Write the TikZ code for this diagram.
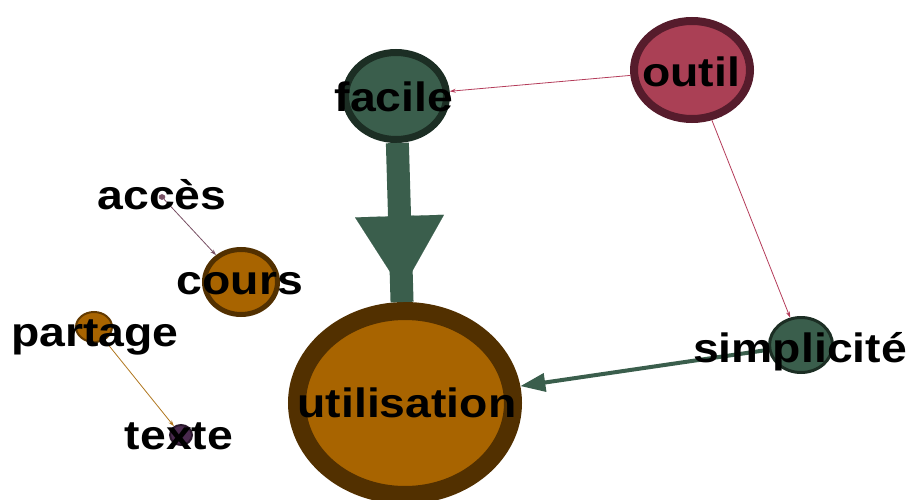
\documentclass[tikz,border=0pt]{standalone}
\usepackage{fontspec}
\newfontfamily\lblfont{Liberation Sans}
\usetikzlibrary{shapes.geometric,arrows.meta}
\definecolor{orfill}{RGB}{168,100,0}
\definecolor{orline}{RGB}{82,48,0}
\definecolor{grfill}{RGB}{58,94,76}
\definecolor{grline}{RGB}{28,46,36}
\definecolor{rdfill}{RGB}{170,64,85}
\definecolor{rdline}{RGB}{86,28,44}
\definecolor{pufill}{RGB}{74,42,78}
\definecolor{puline}{RGB}{42,24,44}
\definecolor{rdedge}{RGB}{180,60,90}
\definecolor{puedge}{RGB}{120,80,100}
\definecolor{oredge}{RGB}{176,118,30}
\tikzset{
  ell/.style={ellipse, draw, inner sep=0pt},
  lab/.style={font=\lblfont\bfseries\fontsize{41}{41}\selectfont, text=black,
    inner sep=0pt, text height=29pt, text depth=0pt, anchor=center},
  thinedge/.style={line width=0.8pt, -{Stealth[length=6pt,width=4pt]}},
}
\newcommand\wide[1]{\scalebox{1.13}[1]{#1}}
\begin{document}
\begin{tikzpicture}[x=1pt,y=-1pt]
\useasboundingbox (0,0) rectangle (910,500);
% nodes
\node[ell, fill=orfill, draw=orline, line width=18pt, minimum width=216pt, minimum height=184pt] (utilisation) at (405,403) {};
\node[ell, fill=grfill, draw=grline, line width=7pt, minimum width=101pt, minimum height=87pt] (facile) at (396,96) {};
\node[ell, fill=rdfill, draw=rdline, line width=8pt, minimum width=116pt, minimum height=98pt] (outil) at (692,70) {};
\node[ell, fill=grfill, draw=grline, line width=3pt, minimum width=63pt, minimum height=55pt] (simplicite) at (801,345) {};
\node[ell, fill=orfill, draw=orline, line width=5pt, minimum width=73pt, minimum height=65pt] (cours) at (241,282) {};
\node[ell, fill=orfill, draw=orline!80!orfill, line width=2pt, minimum width=36pt, minimum height=30pt] (partage) at (94,327) {};
\node[ell, fill=pufill, draw=puline, line width=2pt, minimum width=22pt, minimum height=20pt] (texte) at (181,435) {};
\node[ell, fill=puedge, draw=puedge, line width=0.5pt, minimum width=6pt, minimum height=5pt] (acces) at (162,197) {};
% edges
\draw[thinedge, draw=rdedge] (outil) -- (facile);
\draw[thinedge, draw=rdedge] (outil) -- (simplicite);
\draw[thinedge, draw=puedge] (acces) -- (cours);
\draw[thinedge, draw=oredge] (partage) -- (texte);
\draw[grfill, line width=4pt, -{Triangle[length=25pt,width=18pt]}] (simplicite) -- (utilisation);
\draw[grfill, line width=23pt] (facile) -- (utilisation);
\draw[grfill, line width=0.1pt, shorten >=12pt, -{Triangle[length=74pt,width=89pt]}] (facile) -- (utilisation);
% labels
\node[lab] (lfacile) at (394,97) {\wide{facile}};
\node[lab] (loutil) at (691,72) {\wide{outil}};
\node[lab] (lacces) at (162,195) {\wide{accès}};
\node[lab] (lcours) at (240,280) {\wide{cours}};
\node[lab] (lpartage) at (95,332) {\wide{partage}};
\node[lab] (ltexte) at (179,435) {\wide{texte}};
\node[lab] (lsimplicite) at (800,348) {\wide{simplicité}};
\node[lab] (lutilisation) at (407,403) {\wide{utilisation}};
\end{tikzpicture}
\end{document}
